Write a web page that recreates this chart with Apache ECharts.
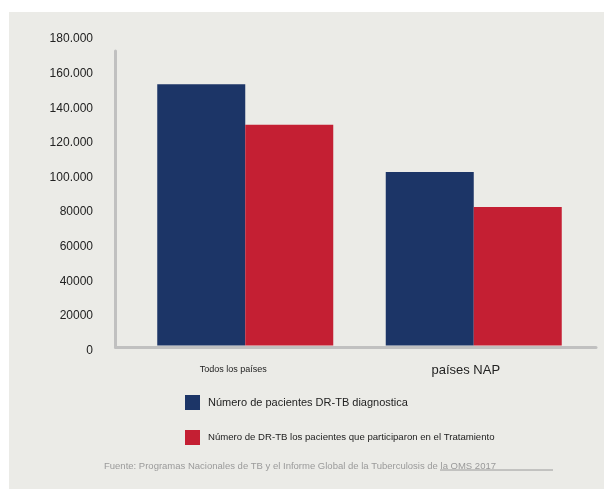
<!DOCTYPE html>
<html>
<head>
<meta charset="utf-8">
<script src="https://cdn.jsdelivr.net/npm/echarts@6/dist/echarts.min.js"></script>
<style>
  html, body { margin: 0; padding: 0; background: #ffffff; }
  #chart { width: 604px; height: 489px; }
</style>
</head>
<body>
<div id="chart"></div>
<script>
const categories = ['Todos los países', 'países NAP'];
const diagnosed = [151000, 100300];
const treated = [127500, 80000];
const seriesNames = [
  'Número de pacientes DR-TB diagnostica',
  'Número de DR-TB los pacientes que participaron en el Tratamiento'
];
const sourceText = 'Fuente: Programas Nacionales de TB y el Informe Global de la Tuberculosis de la OMS 2017';

const chart = echarts.init(document.getElementById('chart'));
const font = 'Liberation Sans, Arial, sans-serif';

const option = {
  backgroundColor: 'transparent',
  textStyle: { fontFamily: font },
  color: ['#1c3567', '#c41f33'],
  graphic: [
    // fondo gris del panel
    { type: 'rect', z: -10, shape: { x: 9, y: 12, width: 595, height: 477 }, style: { fill: '#ebebe7' } },
    // subrayado de la fuente
    { type: 'line', shape: { x1: 440, y1: 470, x2: 553, y2: 470 }, style: { stroke: '#9a9a9a', lineWidth: 1 } }
  ],
  title: {
    text: sourceText,
    left: 99,
    top: 456,
    textStyle: { fontSize: 9.5, fontWeight: 'normal', color: '#9a9a9a', fontFamily: font }
  },
  legend: {
    orient: 'vertical',
    left: 180,
    top: 390,
    itemWidth: 15,
    itemHeight: 15,
    itemGap: 20,
    icon: 'rect',
    selectedMode: false,
    data: [
      { name: seriesNames[0], textStyle: { fontSize: 11, color: '#222', padding: [0, 0, 0, 3] } },
      { name: seriesNames[1], textStyle: { fontSize: 9.6, color: '#222', padding: [0, 0, 0, 3] } }
    ]
  },
  grid: [
    { left: 131, right: 16, top: 34, bottom: 143.5 },
    // solo para las lineas de los ejes
    { left: 115.5, right: 8, top: 51, bottom: 142 }
  ],
  xAxis: [
    {
      type: 'category',
      gridIndex: 0,
      data: [
        { value: categories[0], textStyle: { fontSize: 9, padding: [2, 24, 0, 0] } },
        { value: categories[1], textStyle: { fontSize: 13, padding: [0, 16, 0, 0] } }
      ],
      axisLine: { show: false },
      axisTick: { show: false },
      axisLabel: { color: '#222', margin: 18 }
    },
    {
      type: 'category',
      gridIndex: 1,
      data: [],
      axisLine: { show: true, lineStyle: { color: '#c0c0c0', width: 3 } },
      axisTick: { show: false },
      axisLabel: { show: false }
    }
  ],
  yAxis: [
    {
      type: 'value',
      gridIndex: 0,
      min: 0,
      max: 180000,
      interval: 20000,
      axisLine: { show: false },
      axisTick: { show: false },
      splitLine: { show: false },
      axisLabel: {
        color: '#222',
        fontSize: 12,
        margin: 38,
        verticalAlign: 'top',
        lineHeight: 10,
        formatter: function (v) {
          return v >= 100000 ? Math.floor(v / 1000) + '.000' : String(v);
        }
      }
    },
    {
      type: 'value',
      gridIndex: 1,
      axisLine: { show: true, lineStyle: { color: '#c0c0c0', width: 3 } },
      axisTick: { show: false },
      splitLine: { show: false },
      axisLabel: { show: false }
    }
  ],
  series: [
    {
      name: seriesNames[0],
      type: 'bar',
      data: diagnosed,
      barWidth: 88,
      barGap: '0%',
      z: 1
    },
    {
      name: seriesNames[1],
      type: 'bar',
      data: treated,
      barWidth: 88,
      barGap: '0%',
      z: 1
    }
  ],
  animation: false
};

chart.setOption(option);
</script>
</body>
</html>
